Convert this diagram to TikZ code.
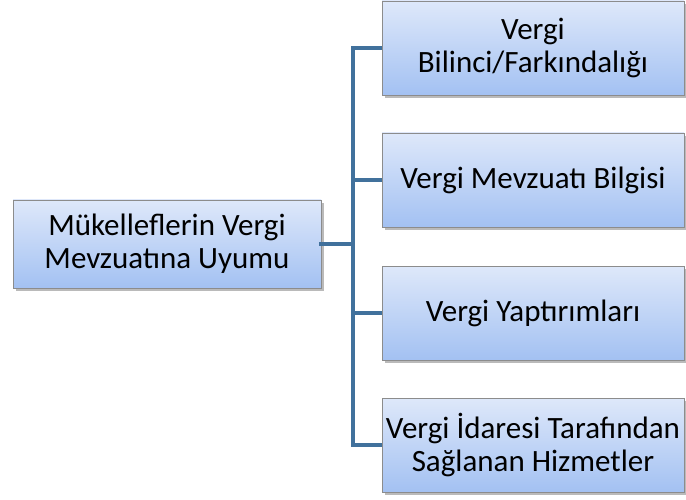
\documentclass[tikz,border=0pt]{standalone}
\usepackage{fontspec}
\setmainfont{Carlito}
\usetikzlibrary{shadows}
\definecolor{linec}{RGB}{65,113,156}
\definecolor{topc}{RGB}{222,232,250}
\definecolor{botc}{RGB}{163,193,242}
\definecolor{bordc}{RGB}{140,140,140}
\tikzset{
  box/.style={draw=bordc, line width=0.8pt, top color=topc, bottom color=botc,
    drop shadow={shadow xshift=2.5pt, shadow yshift=-3pt, opacity=0.45, fill=black!60},
    align=center, font=\fontsize{31}{33}\selectfont, inner sep=0pt},
  rbox/.style={box, minimum width=302pt, minimum height=94pt},
  conn/.style={draw=linec, line width=4pt}
}
\begin{document}
\begin{tikzpicture}[x=1pt,y=1pt]
\useasboundingbox (0,0) rectangle (686,499);
\fill[white] (0,0) rectangle (686,499);
\coordinate (bus) at (353,255);
\node[box, minimum width=308pt, minimum height=88pt] (root) at (167,255) {Mükelleflerin Vergi\\Mevzuatına Uyumu};
\node[rbox] (a) at (533,451) {Vergi\\Bilinci/Farkındalığı};
\node[rbox] (b) at (533,319) {Vergi Mevzuatı Bilgisi};
\node[rbox] (c) at (533,186) {Vergi Yaptırımları};
\node[rbox] (d) at (533,54) {Vergi İdaresi Tarafından\\Sağlanan Hizmetler};
\draw[conn, line cap=rect] (root.east) -- (bus);
\draw[conn, line join=miter] (a.west) -| (bus) |- (d.west);
\draw[conn] (bus |- b.west) -- (b.west);
\draw[conn] (bus |- c.west) -- (c.west);
\end{tikzpicture}
\end{document}
